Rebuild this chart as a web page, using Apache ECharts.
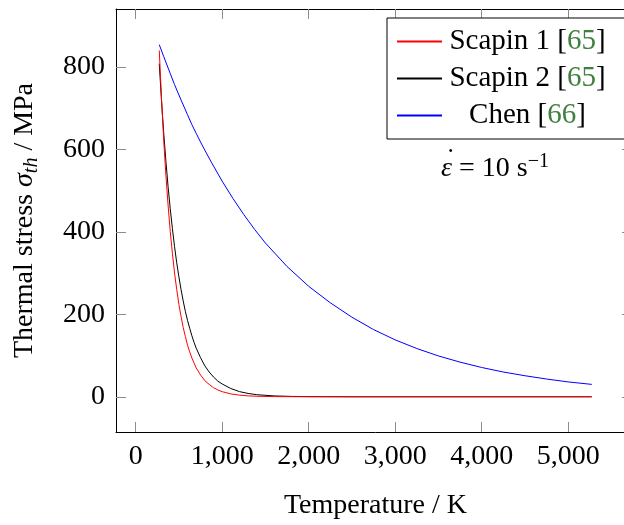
<!DOCTYPE html>
<html>
<head>
<meta charset="utf-8">
<script src="https://cdn.jsdelivr.net/npm/echarts@6/dist/echarts.min.js"></script>
<style>
html,body{margin:0;padding:0;background:#fff;overflow:hidden;width:624px;height:525px;}
#c{width:640px;height:525px;}
</style>
</head>
<body>
<div id="c"></div>
<script>
// ---- data ----
var seriesNames = ['Scapin 1', 'Scapin 2', 'Chen'];
var seriesRefs = ['65', '65', '66'];
var scapinT = [273, 300, 325, 350, 375, 400, 425, 450, 475, 500, 525, 550, 575, 600, 625, 650, 675, 700, 750, 800, 850, 900, 950, 1000, 1100, 1200, 1300, 1400, 1600, 1800, 2000, 2500, 3000, 3500, 4000, 4500, 5000, 5273];
var scapin1 = [840, 720, 621, 537, 465, 401, 348, 300, 260, 224, 195, 168, 146, 125, 109, 94, 82, 70, 53, 39, 30, 22, 16.6, 12.3, 6.9, 3.9, 2.1, 1.2, 0.4, 0.12, 0, 0, 0, 0, 0, 0, 0, 0];
var scapin2 = [808, 715, 639, 571, 510, 456, 408, 364, 325, 291, 260, 232, 207, 185, 166, 148, 132, 118, 95, 75, 60, 48, 38, 31, 20, 12.5, 8, 5, 2, 0.85, 0.35, 0, 0, 0, 0, 0, 0, 0];
var chenT = [273, 325, 400, 450, 500, 600, 650, 700, 750, 800, 875, 1000, 1125, 1250, 1375, 1500, 1750, 2000, 2250, 2500, 2750, 3000, 3250, 3500, 3750, 4000, 4250, 4500, 4750, 5000, 5273];
var chen = [854, 825, 784, 757, 732, 684, 660, 639, 618, 598, 569, 523, 481, 442, 406, 373, 316, 268, 228, 193, 163, 138, 117, 99, 84, 71, 60, 51, 43, 36, 30];
var xTickValues = [0, 1000, 2000, 3000, 4000, 5000];
var yTickValues = [0, 200, 400, 600, 800];

var FONT = '"Liberation Serif", "DejaVu Serif", serif';
var GREEN = '#3f803f';
var colors = ['#ff0000', '#000000', '#0000ff'];

function pairs(xs, ys) { return xs.map(function (x, i) { return [x, ys[i]]; }); }
function fmtThousands(v) { return String(v).replace(/\B(?=(\d{3})+(?!\d))/g, ','); }

var chart = echarts.init(document.getElementById('c'), null, {renderer: 'canvas', width: 640, height: 525});

var xMin = -227, xMax = 5773, yMin = -85.5, yMax = 940.5;

function baseX(pos, showLabels) {
  return {
    type: 'value', position: pos, min: xMin, max: xMax,
    axisLine: {show: true, onZero: false, lineStyle: {color: '#000', width: 1}},
    axisTick: {show: true, inside: true, length: 10, lineStyle: {color: '#8c8c8c', width: 1},
      customValues: xTickValues},
    axisLabel: {show: showLabels, margin: 11, color: '#000', fontFamily: FONT, fontSize: 28,
      customValues: xTickValues,
      formatter: function (v) { return fmtThousands(v); }},
    splitLine: {show: false}
  };
}
function baseY(pos, showLabels) {
  return {
    type: 'value', position: pos, min: yMin, max: yMax,
    axisLine: {show: true, onZero: false, lineStyle: {color: '#000', width: 1}},
    axisTick: {show: true, inside: true, length: 10, lineStyle: {color: '#8c8c8c', width: 1},
      customValues: yTickValues},
    axisLabel: {show: showLabels, margin: 11, color: '#000', fontFamily: FONT, fontSize: 28,
      customValues: yTickValues},
    splitLine: {show: false}
  };
}

var xBottom = baseX('bottom', true);
xBottom.name = 'Temperature / K';
xBottom.nameLocation = 'middle';
xBottom.nameGap = 60;
xBottom.nameTextStyle = {color: '#000', fontFamily: FONT, fontSize: 28};
var xTop = baseX('top', false);

var yLeft = baseY('left', true);
yLeft.name = '{n|Thermal stress }{i|σ}{s|th}{n| / MPa}';
yLeft.nameLocation = 'middle';
yLeft.nameGap = 74;
yLeft.nameTextStyle = {
  color: '#000', fontFamily: FONT, fontSize: 28,
  rich: {
    n: {fontFamily: FONT, fontSize: 28, color: '#000'},
    i: {fontFamily: FONT, fontSize: 28, fontStyle: 'italic', color: '#000'},
    s: {fontFamily: FONT, fontSize: 20, fontStyle: 'italic', color: '#000', padding: [14, 0, 0, 0]}
  }
};
var yRight = baseY('right', false);
yRight.axisLine.show = false;
yRight.axisTick.length = 13;

var datasets = [pairs(scapinT, scapin1), pairs(scapinT, scapin2), pairs(chenT, chen)];

var series = seriesNames.map(function (n, i) {
  return {
    name: n, type: 'line', data: datasets[i], xAxisIndex: 0, yAxisIndex: 0,
    symbol: 'none', showSymbol: false, smooth: false,
    lineStyle: {color: colors[i], width: 1}, itemStyle: {color: colors[i]},
    z: 3 - i, animation: false
  };
});

var option = {
  animation: false,
  backgroundColor: '#fff',
  grid: {left: 116, top: 9, width: 519, height: 430, containLabel: false},
  xAxis: [xBottom, xTop],
  yAxis: [yLeft, yRight],
  legend: {
    orient: 'vertical', left: 387, top: 18, selectedMode: false,
    data: seriesNames,
    itemWidth: 45, itemHeight: 14, itemGap: 0,
    itemStyle: {opacity: 0},
    padding: [5, 17, 5, 9],
    borderColor: '#000', borderWidth: 1, backgroundColor: '#fff',
    textStyle: {fontFamily: FONT, fontSize: 29, color: '#000', lineHeight: 37, width: 161,
      rich: {
        t: {fontFamily: FONT, fontSize: 29, color: '#000', align: 'center', lineHeight: 37},
        g: {fontFamily: FONT, fontSize: 29, color: GREEN, align: 'center', lineHeight: 37}
      }},
    formatter: function (name) {
      var idx = seriesNames.indexOf(name);
      return '{t|' + name + ' [}{g|' + seriesRefs[idx] + '}{t|]}';
    }
  },
  graphic: [{
    type: 'group', left: 441, top: 146, z: 10,
    children: [{
      type: 'text', x: 0, y: 0,
      style: {
        text: '{e|ε}{n| = 10 s}{p|−1}',
        rich: {
          e: {fontFamily: FONT, fontSize: 28, fontStyle: 'italic', fill: '#000'},
          n: {fontFamily: FONT, fontSize: 28, fill: '#000'},
          p: {fontFamily: FONT, fontSize: 20, fill: '#000', padding: [0, 0, 14, 0]}
        }
      }
    }, {
      type: 'text', x: 5, y: -6,
      style: {text: '˙', fontFamily: FONT, fontSize: 28, fill: '#000'}
    }]
  }],
  series: series
};
chart.setOption(option);
</script>
</body>
</html>
